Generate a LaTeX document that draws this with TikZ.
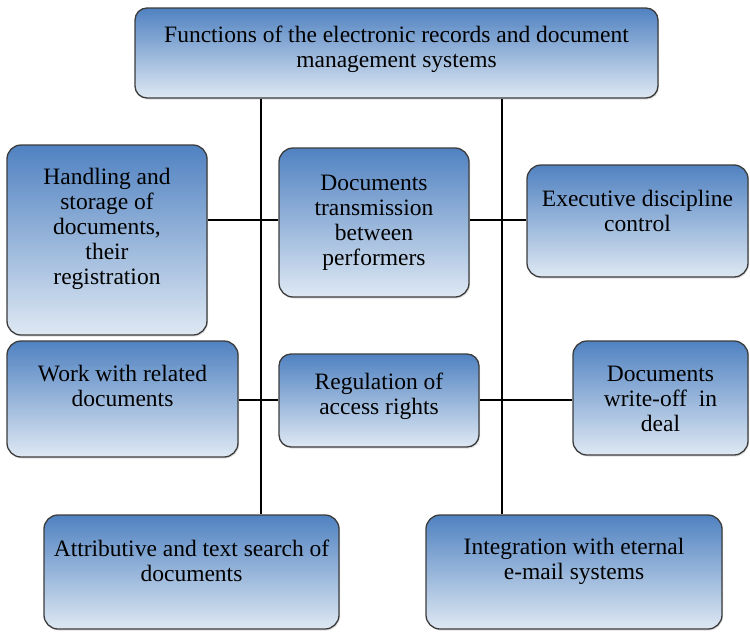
\documentclass[tikz,border=0pt]{standalone}
\usepackage{fontspec}
\setmainfont{Liberation Serif}
\newfontfamily\boxfont{Liberation Serif}
\usetikzlibrary{calc,shadows}
\definecolor{boxtop}{RGB}{80,130,193}
\definecolor{boxbot}{RGB}{222,232,243}
\definecolor{boxline}{RGB}{60,60,60}
\begin{document}
\begin{tikzpicture}[x=1pt,y=-1pt,
  fbox/.style={draw=boxline, line width=1.3pt, rounded corners=14pt,
    top color=boxtop, bottom color=boxbot, inner sep=0pt,
    drop shadow={opacity=0.25, shadow xshift=1pt, shadow yshift=-1.5pt}},
  txt/.style={align=center, font=\boxfont\fontsize{23.5}{25}\selectfont, inner sep=0pt, text=black},
  conn/.style={line width=1.9pt, draw=black}]
\useasboundingbox (0,0) rectangle (750,632);

% boxes
\node[fbox, rounded corners=12pt, minimum width=523pt, minimum height=90pt] (top) at (396.5,53) {};
\node[fbox, minimum width=200pt, minimum height=190pt] (hand) at (107,240) {};
\node[fbox, minimum width=190pt, minimum height=149pt] (trans) at (374,222.5) {};
\node[fbox, minimum width=221pt, minimum height=112pt] (exec) at (637.5,221) {};
\node[fbox, minimum width=231pt, minimum height=116pt] (work) at (122.5,399) {};
\node[fbox, rounded corners=12pt, minimum width=200pt, minimum height=93pt] (reg) at (379,400.5) {};
\node[fbox, minimum width=175pt, minimum height=114pt] (wo) at (660.5,398) {};
\node[fbox, minimum width=295pt, minimum height=114pt] (attr) at (191.5,572) {};
\node[fbox, minimum width=296pt, minimum height=114pt] (integ) at (574,572) {};

% texts
\node[txt] (top-t) at ($(top)+(0,-4)$) {Functions of the electronic records and document\\management systems};
\node[txt] (hand-t) at ($(hand)+(0,-11)$) {Handling and\\storage of\\documents,\\their\\registration};
\node[txt] (trans-t) at ($(trans)+(0,0)$) {Documents\\transmission\\between\\performers};
\node[txt] (exec-t) at ($(exec)+(0,-10)$) {Executive discipline\\control};
\node[txt] (work-t) at ($(work)+(0,-13)$) {Work with related\\documents};
\node[txt] (reg-t) at ($(reg)+(0,-4)$) {Regulation of\\access rights};
\node[txt] (wo-t) at ($(wo)+(0,1)$) {Documents\\write-off\ \ in\\deal};
\node[txt] (attr-t) at ($(attr)+(0,-11)$) {Attributive and text search of\\documents};
\node[txt] (integ-t) at ($(integ)+(0,-11)$) {Integration with eternal\\e-mail systems};

% connectors
\coordinate (L) at (261,0);
\coordinate (R) at (502,0);
\coordinate (H1) at (0,220);
\coordinate (H2) at (0,400);
\draw[conn] (top.south -| L) -- (attr.north -| L);
\draw[conn] (top.south -| R) -- (integ.north -| R);
\draw[conn] (hand.east |- H1) -- (trans.west |- H1);
\draw[conn] (trans.east |- H1) -- (exec.west |- H1);
\draw[conn] (work.east |- H2) -- (reg.west |- H2);
\draw[conn] (reg.east |- H2) -- (wo.west |- H2);
\end{tikzpicture}
\end{document}
